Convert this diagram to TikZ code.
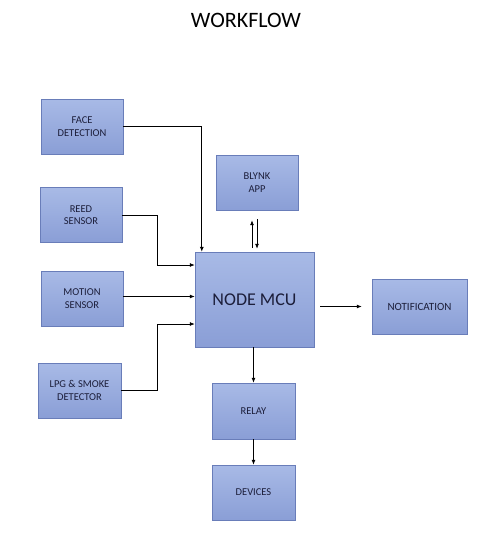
\documentclass[tikz,border=0pt]{standalone}
\usepackage{fontspec}
\setmainfont{Carlito}
\usetikzlibrary{arrows.meta}
\definecolor{boxtop}{RGB}{168,186,230}
\definecolor{boxbot}{RGB}{138,158,214}
\definecolor{boxline}{RGB}{105,125,185}
\definecolor{boxtext}{RGB}{28,30,58}
\begin{document}
\begin{tikzpicture}[x=1pt, y=-1pt,
  box/.style={draw=boxline, top color=boxtop, bottom color=boxbot, text=boxtext, inner sep=0pt, align=center, font=\fontsize{10.5}{12.5}\selectfont},
  arr/.style={-{Latex[length=5pt,width=4pt]}, line width=0.8pt}]
  \useasboundingbox (0,0) rectangle (495,536);
  \node[font=\fontsize{22}{24}\selectfont] (title) at (246,20) {WORKFLOW};
  % inputs
  \node[box, minimum width=82pt, minimum height=55pt] (face) at (82,126.5) {FACE\\DETECTION};
  \node[box, minimum width=82pt, minimum height=55pt] (reed) at (81,215) {REED\\SENSOR};
  \node[box, minimum width=82pt, minimum height=55pt] (motion) at (82,298.5) {MOTION\\SENSOR};
  \node[box, minimum width=83pt, minimum height=55pt] (lpg) at (79.5,390.5) {LPG \& SMOKE\\DETECTOR};
  % controller
  \node[box, minimum width=119pt, minimum height=95pt, font=\fontsize{18}{20}\selectfont] (mcu) at (254.5,299.5) {NODE MCU};
  \node[box, minimum width=82pt, minimum height=55pt] (blynk) at (257,182.5) {BLYNK\\APP};
  \node[box, minimum width=95pt, minimum height=55pt, font=\fontsize{11}{13}\selectfont] (notif) at (419.5,306.5) {NOTIFICATION};
  % outputs
  \node[box, minimum width=83pt, minimum height=56pt] (relay) at (253.5,411) {RELAY};
  \node[box, minimum width=83pt, minimum height=55pt] (dev) at (253.5,492.5) {DEVICES};
  \draw[arr] (face.east) -| ([xshift=7pt]mcu.north west);
  \draw[arr] (reed.east) -- ++(35,0) |- ([yshift=34.5pt]mcu.west);
  \draw[arr] ([yshift=2pt]motion.east) -- ([yshift=2pt]motion.east -| mcu.west);
  \draw[arr] (lpg.east) -- ++(36,0) |- ([yshift=-24.5pt]mcu.west);
  \draw[arr, shorten <=4pt, shorten >=10pt] ([xshift=-2.5pt]mcu.north) -- ([xshift=-2.5pt]mcu.north |- blynk.south);
  \draw[arr, shorten <=9pt, shorten >=3pt] ([xshift=2.5pt]mcu.north |- blynk.south) -- ([xshift=2.5pt]mcu.north);
  \draw[arr, shorten <=6pt, shorten >=10pt] ([yshift=-7pt]mcu.east) -- (notif.west);
  \draw[arr] (relay.north |- mcu.south) -- (relay.north);
  \draw[arr] (relay) -- (dev);
\end{tikzpicture}
\end{document}
